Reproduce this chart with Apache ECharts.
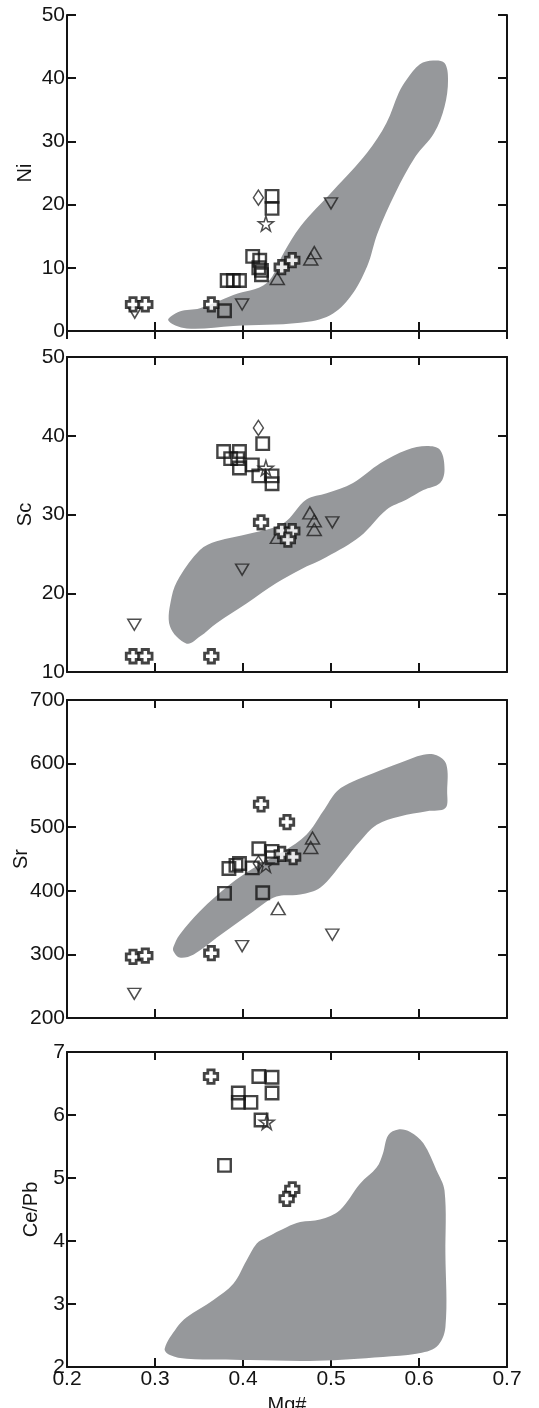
<!DOCTYPE html>
<html>
<head>
<meta charset="utf-8">
<script src="https://cdn.jsdelivr.net/npm/echarts@6/dist/echarts.min.js"></script>
<style>
  html, body { margin: 0; padding: 0; background: #fff; }
  #chart { width: 539px; height: 1408px; }
</style>
</head>
<body>
<div id="chart"></div>
<script>
// x axis (Mg#) shared by all panels
var xTicks = [0.2, 0.3, 0.4, 0.5, 0.6, 0.7];

// Ni panel
var niField = [[0.315,1.7],[0.336,0.4],[0.389,0.8],[0.465,1.3],[0.499,2.5],[0.522,5.4],[0.541,10.2],[0.553,15.5],[0.573,21.8],[0.596,27.6],[0.617,31.3],[0.629,35.5],[0.633,39.8],[0.629,42.4],[0.616,42.8],[0.601,42.2],[0.586,39.8],[0.577,37.7],[0.563,32.9],[0.541,28.2],[0.503,22.3],[0.465,16.5],[0.446,12.3],[0.427,7.6],[0.389,5.7],[0.351,3.6],[0.328,3.1]];
var niCross = [[0.275,4.2],[0.289,4.2],[0.364,4.2],[0.444,10.1],[0.456,11.2]];
var niSquare = [[0.379,3.2],[0.382,8],[0.389,8],[0.396,8],[0.411,11.8],[0.419,11.2],[0.418,10.0],[0.421,9.6],[0.421,8.9],[0.433,21.3],[0.433,19.4]];
var niTriUp = [[0.439,8.3],[0.477,11.4],[0.481,12.4]];
var niTriDown = [[0.277,2.9],[0.399,4.2],[0.5,20.2]];
var niDiamond = [[0.4175,21.1]];
var niStar = [[0.426,17]];

// Sc panel
var scField = [[0.336,13.6],[0.317,15.8],[0.319,19.6],[0.328,22.1],[0.351,25.5],[0.370,26.6],[0.408,27.6],[0.446,28.9],[0.472,31.9],[0.495,32.7],[0.525,34.0],[0.556,36.5],[0.586,38.2],[0.609,38.7],[0.624,38.2],[0.629,35.7],[0.624,34.0],[0.605,33.1],[0.586,31.9],[0.563,30.6],[0.533,27.2],[0.495,24.6],[0.465,23.0],[0.438,21.3],[0.404,18.7],[0.370,16.2],[0.351,14.5]];
var scCross = [[0.275,12],[0.289,12],[0.364,12],[0.4205,29],[0.444,27.9],[0.456,27.9],[0.451,26.8]];
var scSquare = [[0.4224,39],[0.378,38],[0.396,38],[0.386,37.1],[0.394,37.1],[0.396,35.9],[0.4106,36.3],[0.418,34.9],[0.433,34.9],[0.433,33.9]];
var scTriUp = [[0.439,27.1],[0.476,30.2],[0.481,29.2],[0.481,28.1]];
var scTriDown = [[0.2765,16],[0.399,23],[0.5015,29]];
var scDiamond = [[0.4175,41]];
var scStar = [[0.426,35.9]];

// Sr panel
var srField = [[0.321,305],[0.328,295],[0.344,300],[0.370,326],[0.412,368],[0.438,391],[0.465,394],[0.488,405],[0.514,446],[0.533,478],[0.552,504],[0.578,517],[0.609,525],[0.630,530],[0.632,557],[0.631,599],[0.620,613],[0.605,614],[0.578,601],[0.548,585],[0.525,572],[0.507,557],[0.491,525],[0.472,488],[0.446,462],[0.412,436],[0.385,410],[0.351,368],[0.328,331],[0.321,312]];
var srCross = [[0.275,296],[0.289,298],[0.364,302],[0.4205,536],[0.450,508],[0.444,458],[0.457,453]];
var srSquare = [[0.379,396],[0.4224,397],[0.384,435],[0.392,440],[0.396,443],[0.4106,436],[0.418,466],[0.433,462],[0.433,452]];
var srTriUp = [[0.44,372],[0.479,483],[0.477,468]];
var srTriDown = [[0.2765,238],[0.399,313],[0.5015,331]];
var srDiamond = [[0.4175,443]];
var srStar = [[0.426,441]];

// Ce/Pb panel
var ceField = [[0.311,2.29],[0.317,2.19],[0.336,2.13],[0.408,2.11],[0.484,2.1],[0.559,2.16],[0.597,2.21],[0.620,2.32],[0.630,2.63],[0.630,3.8],[0.629,4.8],[0.620,5.12],[0.605,5.55],[0.590,5.73],[0.5765,5.77],[0.565,5.68],[0.559,5.39],[0.552,5.17],[0.533,4.91],[0.510,4.49],[0.4875,4.34],[0.465,4.3],[0.4496,4.22],[0.427,4.06],[0.4156,3.96],[0.404,3.69],[0.389,3.32],[0.366,3.06],[0.336,2.79],[0.325,2.63]];
var ceCross = [[0.3636,6.61],[0.456,4.82],[0.4496,4.67]];
var ceSquare = [[0.418,6.61],[0.433,6.6],[0.3947,6.35],[0.3947,6.2],[0.409,6.2],[0.433,6.35],[0.4205,5.92],[0.379,5.2]];
var ceStar = [[0.427,5.89]];

var panels = [
  { name: 'Ni', min: 0, max: 50, step: 10, top: 15, height: 316, gap: 32, field: niField,
    cross: niCross, square: niSquare, up: niTriUp, down: niTriDown, diamond: niDiamond, star: niStar },
  { name: 'Sc', min: 10, max: 50, step: 10, top: 357, height: 315, gap: 32, field: scField,
    cross: scCross, square: scSquare, up: scTriUp, down: scTriDown, diamond: scDiamond, star: scStar },
  { name: 'Sr', min: 200, max: 700, step: 100, top: 700, height: 318, gap: 36, field: srField,
    cross: srCross, square: srSquare, up: srTriUp, down: srTriDown, diamond: srDiamond, star: srStar },
  { name: 'Ce/Pb', min: 2, max: 7, step: 1, top: 1052, height: 315, gap: 26, field: ceField,
    cross: ceCross, square: ceSquare, up: [], down: [], diamond: [], star: ceStar }
];

var crossPath = 'path://M3.2,0H8.8V3.2H12V8.8H8.8V12H3.2V8.8H0V3.2H3.2Z';
var starPath = 'path://M50,0L61,35L98,35L68,57L79,91L50,70L21,91L32,57L2,35L39,35Z';
var font = 'Liberation Sans, Arial, sans-serif';
var ink = '#141414';

var chart = echarts.init(document.getElementById('chart'));
var grids = [], xAxes = [], yAxes = [], series = [];

panels.forEach(function (p, i) {
  grids.push({ left: 67, width: 440, top: p.top, height: p.height, outerBoundsMode: 'none' });
  var last = i === panels.length - 1;
  var lineStyle = { color: ink, width: 2 };
  // bottom x axis
  xAxes.push({
    type: 'value', gridIndex: i, min: 0.2, max: 0.7, interval: 0.1,
    axisLine: { lineStyle: lineStyle },
    axisTick: { inside: true, length: 9, lineStyle: lineStyle },
    axisLabel: {
      show: last, color: ink, fontFamily: font, fontSize: 21, margin: 2,
      formatter: function (v) { return v.toFixed(1); }
    },
    splitLine: { show: false },
    name: last ? 'Mg#' : '', nameLocation: 'middle', nameGap: 28, nameMoveOverlap: false,
    nameTextStyle: { color: ink, fontFamily: font, fontSize: 20 }
  });
  // top mirror axis
  xAxes.push({
    type: 'value', gridIndex: i, position: 'top', min: 0.2, max: 0.7, interval: 0.1,
    axisLine: { lineStyle: lineStyle },
    axisTick: { inside: true, length: 8, lineStyle: lineStyle },
    axisLabel: { show: false }, splitLine: { show: false }
  });
  yAxes.push({
    type: 'value', gridIndex: i, min: p.min, max: p.max, interval: p.step,
    axisLine: { lineStyle: lineStyle },
    axisTick: { inside: true, length: 9, lineStyle: lineStyle },
    axisLabel: { color: ink, fontFamily: font, fontSize: 21, margin: 2 },
    splitLine: { show: false },
    name: p.name, nameLocation: 'middle', nameGap: p.gap, nameMoveOverlap: false,
    nameTextStyle: { color: ink, fontFamily: font, fontSize: 20 }
  });
  yAxes.push({
    type: 'value', gridIndex: i, position: 'right', min: p.min, max: p.max, interval: p.step,
    axisLine: { lineStyle: lineStyle },
    axisTick: { inside: true, length: 9, lineStyle: lineStyle },
    axisLabel: { show: false }, splitLine: { show: false }
  });

  var xi = i * 2, yi = i * 2;
  var field = p.field;
  // grey field
  series.push({
    type: 'custom', xAxisIndex: xi, yAxisIndex: yi, silent: true, z: 1,
    data: [field[0]],
    renderItem: function (params, api) {
      return {
        type: 'polygon',
        shape: { points: field.map(function (pt) { return api.coord(pt); }), smooth: 0.35 },
        style: { fill: '#96989b' }
      };
    }
  });

  function scatter(data, symbol, size, style, rotate) {
    if (!data.length) return;
    series.push({
      type: 'scatter', xAxisIndex: xi, yAxisIndex: yi, z: 3, silent: true,
      symbol: symbol, symbolSize: size, symbolRotate: rotate || 0,
      itemStyle: style, data: data
    });
  }
  var hollow = { color: 'rgba(0,0,0,0)', borderColor: ink, borderWidth: 2.4 };
  var thin = { color: 'rgba(0,0,0,0)', borderColor: '#222', borderWidth: 1.5 };
  scatter(p.up, 'triangle', [14, 12], thin);
  scatter(p.down, 'triangle', [13, 11], thin, 180);
  scatter(p.diamond, 'diamond', [10, 15], thin);
  scatter(p.square, 'rect', 12.5, hollow);
  scatter(p.star, starPath, 15, thin);
  scatter(p.cross, crossPath, 13.5, { color: '#fff', borderColor: ink, borderWidth: 2.8, borderJoin: 'miter' });
});

chart.setOption({
  animation: false,
  grid: grids,
  xAxis: xAxes,
  yAxis: yAxes,
  series: series
});
</script>
</body>
</html>
